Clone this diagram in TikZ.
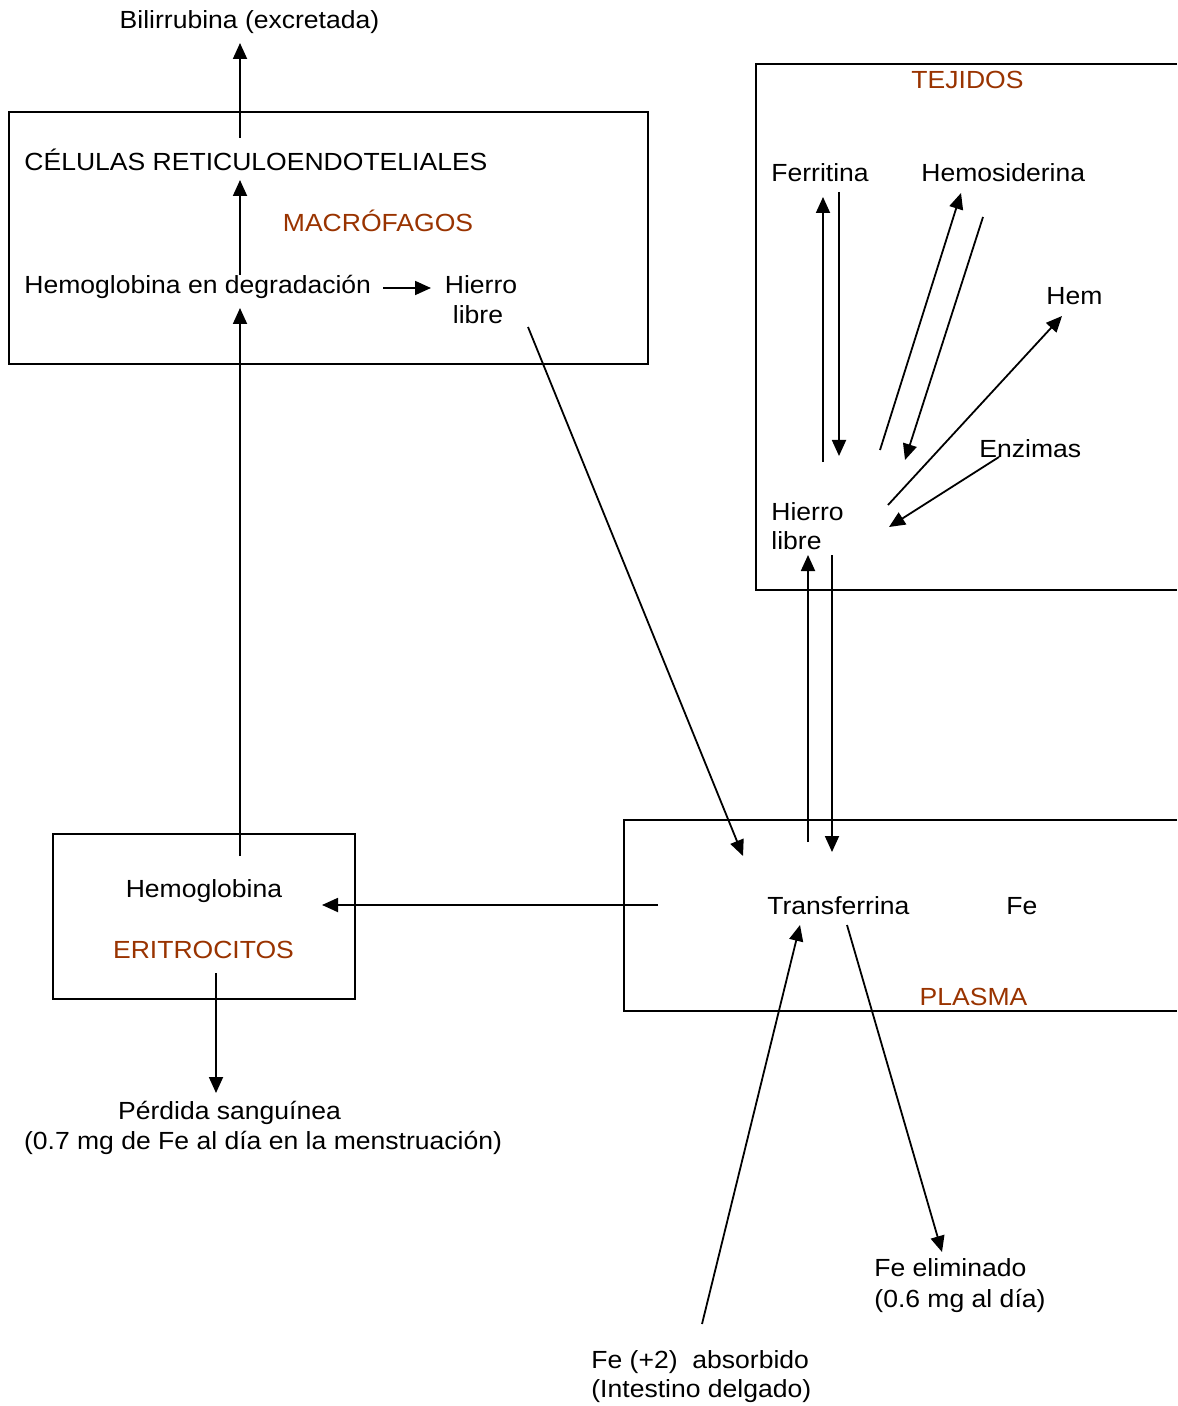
\documentclass[tikz,border=0pt]{standalone}
\usepackage{fontspec}
\setmainfont{Liberation Sans}[FakeStretch=1.07]
\usetikzlibrary{arrows.meta}
\definecolor{rust}{HTML}{993300}
\tikzset{
  lbl/.style={inner sep=0pt, anchor=base, font=\fontsize{12.4}{14}\selectfont},
  lblw/.style={lbl, anchor=base west},
  area/.style={lbl, text=rust},
  frame/.style={line width=1.1pt},
  flow/.style={line width=0.9pt, -{Triangle[length=8pt,width=7pt]}},
}
\begin{document}
\begin{tikzpicture}[x=0.5pt,y=-0.5pt]
\useasboundingbox (0,0) rectangle (1177,1406);

% compartments
\draw[frame] (9,112) rectangle (648,364);
\draw[frame] (53,834) rectangle (355,999);
\draw[frame] (1177,64) -- (756,64) -- (756,590) -- (1177,590);
\draw[frame] (1177,820) -- (624,820) -- (624,1011) -- (1177,1011);

% compartment names
\node[area] (macro) at (378,232) {MACRÓFAGOS};
\node[area] (eritro) at (203.5,958) {ERITROCITOS};
\node[area] (tej) at (967.5,89) {TEJIDOS};
\node[area] (plasma) at (973.5,1005) {PLASMA};

% labels
\node[lbl] (bili) at (249.5,29) {Bilirrubina (excretada)};
\node[lblw] (cel) at (24,171) {CÉLULAS RETICULOENDOTELIALES};
\node[lblw] (hbdeg) at (24,294) {Hemoglobina en degradación};
\node[lbl] (hlA) at (481,294) {Hierro};
\node[lbl] (hlB) at (478,324) {libre};
\node[lbl] (hb) at (204,897) {Hemoglobina};
\node[lbl] (perdA) at (229.5,1119) {Pérdida sanguínea};
\node[lbl] (perdB) at (263,1149) {(0.7 mg de Fe al día en la menstruación)};
\node[lblw] (ferr) at (771,182) {Ferritina};
\node[lblw] (hemo) at (921,182) {Hemosiderina};
\node[lblw] (hem) at (1046,305) {Hem};
\node[lblw] (enz) at (979,458) {Enzimas};
\node[lblw] (htA) at (771,520) {Hierro};
\node[lblw] (htB) at (771,549) {libre};
\node[lblw] (trans) at (767,914) {Transferrina};
\node[lblw] (fe) at (1006,914) {Fe};
\node[lblw] (elimA) at (874,1276) {Fe eliminado};
\node[lblw] (elimB) at (874,1307) {(0.6 mg al día)};
\node[lblw] (absA) at (591,1368) {Fe (+2)\ \ absorbido};
\node[lblw] (absB) at (591,1397) {(Intestino delgado)};

% connector ends
\coordinate (c1) at (240,138);  \coordinate (c2) at (240,43);
\coordinate (c3) at (240,275);  \coordinate (c4) at (240,180);
\coordinate (c5) at (240,856);  \coordinate (c6) at (240,308);
\coordinate (c7) at (383,288);  \coordinate (c8) at (431,288);
\coordinate (c9) at (528,327);  \coordinate (c10) at (743,856);
\coordinate (f1) at (823,462);  \coordinate (f2) at (823,197);
\coordinate (f3) at (839,192);  \coordinate (f4) at (839,456);
\coordinate (s1) at (880,450);  \coordinate (s2) at (961,193);
\coordinate (s3) at (983,217);  \coordinate (s4) at (905,460);
\coordinate (m1) at (888,505);  \coordinate (m2) at (1062,316);
\coordinate (e1) at (999,457);  \coordinate (e2) at (889,527);
\coordinate (p1) at (808,842);  \coordinate (p2) at (808,555);
\coordinate (p3) at (832,555);  \coordinate (p4) at (832,852);
\coordinate (t1) at (658,905);  \coordinate (t2) at (322,905);
\coordinate (r1) at (216,973);  \coordinate (r2) at (216,1093);
\coordinate (a1) at (702,1324); \coordinate (a2) at (800,925);
\coordinate (x1) at (847,925);  \coordinate (x2) at (942,1252);

% flows
\draw[flow] (c1) -- (c2);
\draw[flow] (c3) -- (c4);
\draw[flow] (c5) -- (c6);
\draw[flow] (c7) -- (c8);
\draw[flow] (c9) -- (c10);
\draw[flow] (f1) -- (f2);
\draw[flow] (f3) -- (f4);
\draw[flow] (s1) -- (s2);
\draw[flow] (s3) -- (s4);
\draw[flow] (m1) -- (m2);
\draw[flow] (e1) -- (e2);
\draw[flow] (p1) -- (p2);
\draw[flow] (p3) -- (p4);
\draw[flow] (t1) -- (t2);
\draw[flow] (r1) -- (r2);
\draw[flow] (a1) -- (a2);
\draw[flow] (x1) -- (x2);
\end{tikzpicture}
\end{document}
